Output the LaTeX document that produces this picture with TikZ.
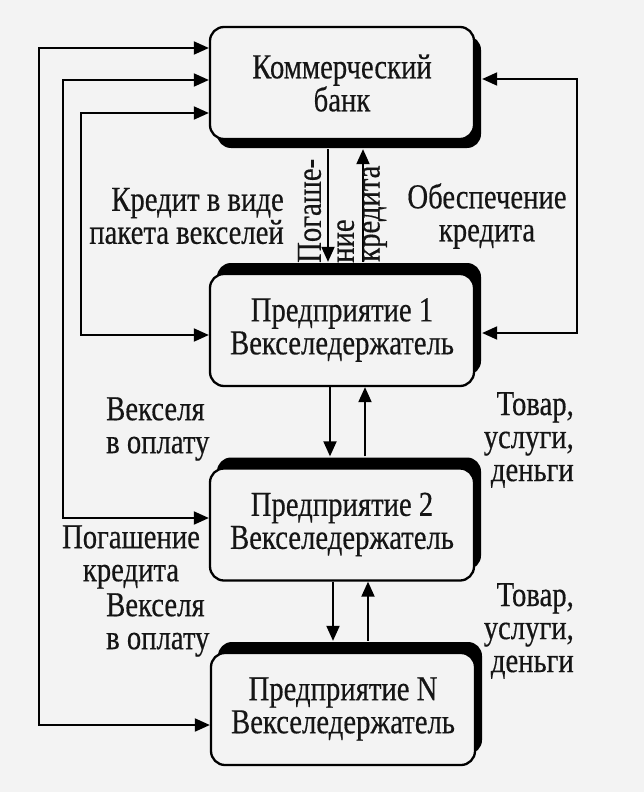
\documentclass[tikz,border=0pt]{standalone}
\usepackage{fontspec}
\setmainfont{Liberation Serif}[FakeStretch=0.82,FakeBold=0.4]
\usetikzlibrary{arrows.meta,shadows,calc}
\definecolor{bg}{HTML}{F3F3F3}
\definecolor{ink}{HTML}{151515}
\begin{document}
\begin{tikzpicture}[x=1pt,y=-1pt,
  font=\fontsize{35}{33}\selectfont,
  box/.style={draw=black, line width=2.3pt, rounded corners=14pt, fill=bg,
    minimum width=264pt, minimum height=112pt, align=center, inner sep=0pt, text=ink},
  bankbox/.style={box, general shadow={fill=black, shadow xshift=7pt, shadow yshift=-9pt}},
  entbox/.style={box, general shadow={fill=black, shadow xshift=7pt, shadow yshift=11pt}},
  conn/.style={line width=1.9pt, draw=black},
  tip/.style={-{Triangle[length=15pt,width=13pt]}},
  bitip/.style={{Triangle[length=15pt,width=13pt]}-{Triangle[length=15pt,width=13pt]}},
  lbl/.style={text=ink, inner sep=0pt}
]
\fill[bg] (0,0) rectangle (644,792);
\useasboundingbox (0,0) rectangle (644,792);

% boxes
\node[bankbox] (bank) at (342,83) {Коммерческий\\банк};
\node[entbox] (e1) at (342,330) {Предприятие 1\\Векселедержатель};
\node[entbox] (e2) at (342,524.5) {Предприятие 2\\Векселедержатель};
\node[entbox] (eN) at (343,709) {Предприятие N\\Векселедержатель};

% route coordinates
\coordinate (l1a) at (39,48);  \coordinate (l1b) at (39,725);
\coordinate (l2a) at (63,80);  \coordinate (l2b) at (63,518);
\coordinate (l3a) at (81,113); \coordinate (l3b) at (81,335);
\coordinate (r1a) at (577,79); \coordinate (r1b) at (577,333);
\coordinate (v1) at (328,0); \coordinate (v2) at (363,0);
\coordinate (v3) at (330,0); \coordinate (v4) at (365,0);
\coordinate (v5) at (333,0); \coordinate (v6) at (368,0);

% left loops
\draw[conn,bitip] (bank.west |- l1a) -- (l1a) -- (l1b) -- (eN.west |- l1b);
\draw[conn,bitip] (bank.west |- l2a) -- (l2a) -- (l2b) -- (e2.west |- l2b);
\draw[conn,bitip] (bank.west |- l3a) -- (l3a) -- (l3b) -- (e1.west |- l3b);
% right loop
\draw[conn,bitip] ($(bank.east |- r1a)+(7,0)$) -- (r1a) -- (r1b) -- ($(e1.east |- r1b)+(7,0)$);

% vertical arrows
\draw[conn,tip] ($(bank.south -| v1)+(0,9)$) -- ($(e1.north -| v1)+(0,-11)$);
\draw[conn,tip] ($(e1.north -| v2)+(0,-11)$) -- ($(bank.south -| v2)+(0,9)$);
\draw[conn,tip] (e1.south -| v3) -- ($(e2.north -| v3)+(0,-11)$);
\draw[conn,tip] ($(e2.north -| v4)+(0,-11)$) -- (e1.south -| v4);
\draw[conn,tip] (e2.south -| v5) -- ($(eN.north -| v5)+(0,-11)$);
\draw[conn,tip] ($(eN.north -| v6)+(0,-11)$) -- (e2.south -| v6);

% labels
\node[lbl, align=right, anchor=east] (kred) at (284,216) {Кредит в виде\\пакета векселей};
\node[lbl, align=center] (obesp) at (487,216) {Обеспечение\\кредита};
\node[lbl, rotate=90, anchor=west, align=left] (pog1) at (326,263) {Погаше-\\ние};
\node[lbl, rotate=90, anchor=west] (kr1) at (375,262) {кредита};
\node[lbl, align=left, anchor=west] (veks1) at (106,429) {Векселя\\в оплату};
\node[lbl, align=right, anchor=east] (tov1) at (574,440) {Товар,\\услуги,\\деньги};
\node[lbl, align=center] (pog2) at (131,557) {Погашение\\кредита};
\node[lbl, align=left, anchor=west] (veks2) at (106,625) {Векселя\\в оплату};
\node[lbl, align=right, anchor=east] (tov2) at (574,631) {Товар,\\услуги,\\деньги};
\end{tikzpicture}
\end{document}
